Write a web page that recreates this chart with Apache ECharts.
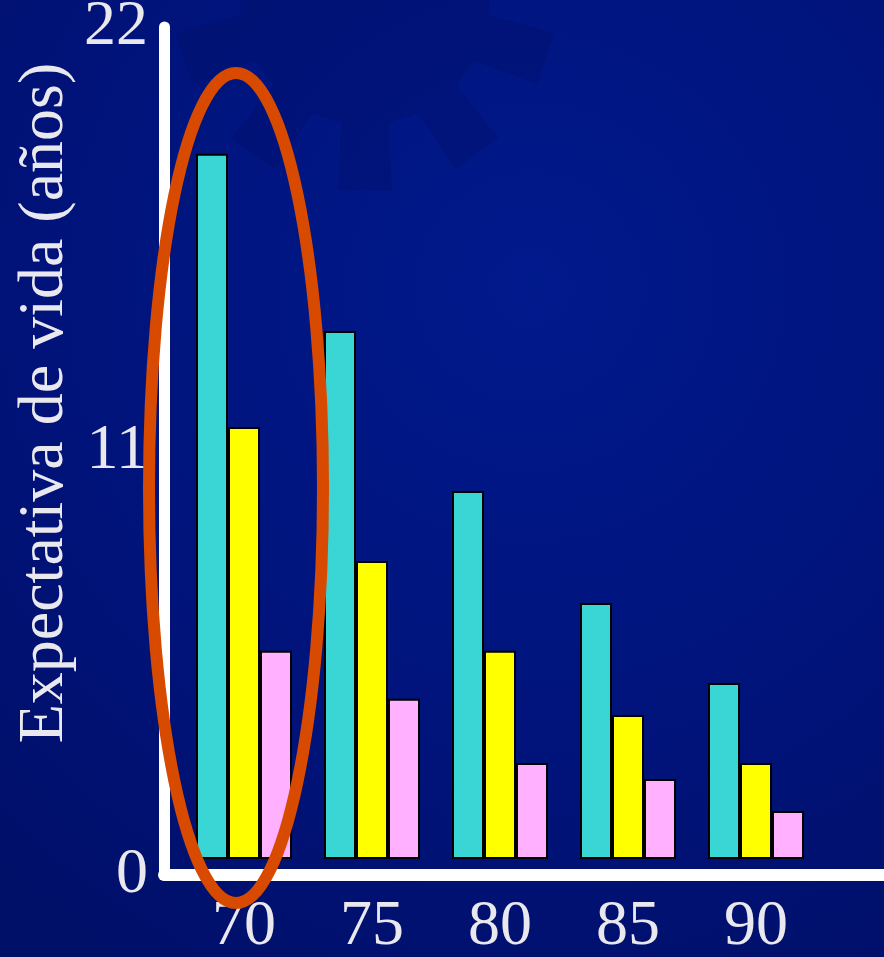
<!DOCTYPE html>
<html>
<head>
<meta charset="utf-8">
<script src="https://cdn.jsdelivr.net/npm/echarts@6/dist/echarts.min.js"></script>
<style>
html,body{margin:0;padding:0;background:#00106e;}
#c{width:884px;height:957px;}
</style>
</head>
<body>
<div id="c"></div>
<script>
// ---- data ----
const categories = ['70', '75', '80', '85', '90'];
const seriesA = [18.67, 13.98, 9.74, 6.78, 4.66];   // cyan
const seriesB = [11.44, 7.89, 5.51, 3.81, 2.54];    // yellow
const seriesC = [5.51, 4.24, 2.54, 2.12, 1.27];     // pink
const yTicks = [0, 11, 22];
const yTitle = 'Expectativa de vida (años)';

const FONT = 'Liberation Serif, Times New Roman, serif';
const TXT = '#e8e8ee';

const chart = echarts.init(document.getElementById('c'), null, {renderer: 'canvas'});

function barSeries(name, data, color) {
  return {
    name, type: 'bar', xAxisIndex: 0, yAxisIndex: 0, data,
    barWidth: 32, barGap: '0%',
    itemStyle: {color, borderColor: '#000', borderWidth: 2},
    emphasis: {disabled: true}, z: 3
  };
}

// decorative background gear (slide template motif)
function gearPoints(cx, cy, rOut, rIn, teeth, startDeg, halfOut, halfIn) {
  const pts = [];
  const step = 360 / teeth;
  const r = d => d * Math.PI / 180;
  for (let i = 0; i < teeth; i++) {
    const a = startDeg + i * step;
    pts.push([cx + rIn * Math.cos(r(a - halfIn)), cy + rIn * Math.sin(r(a - halfIn))]);
    pts.push([cx + rOut * Math.cos(r(a - halfOut)), cy + rOut * Math.sin(r(a - halfOut))]);
    pts.push([cx + rOut * Math.cos(r(a + halfOut)), cy + rOut * Math.sin(r(a + halfOut))]);
    pts.push([cx + rIn * Math.cos(r(a + halfIn)), cy + rIn * Math.sin(r(a + halfIn))]);
  }
  return pts;
}

const option = {
  animation: false,
  backgroundColor: {
    type: 'radial', x: 0.6, y: 0.3, r: 0.9,
    colorStops: [
      {offset: 0, color: '#00198c'},
      {offset: 0.6, color: '#00137a'},
      {offset: 1, color: '#000f68'}
    ]
  },
  grid: [
    {left: 180, right: 64, top: 28, bottom: 98, containLabel: false, outerBoundsMode: 'none'},   // bars
    {left: 164, right: 0, top: 27, bottom: 82, containLabel: false, outerBoundsMode: 'none'}     // axes frame
  ],
  xAxis: [
    {
      gridIndex: 0, type: 'category', data: categories,
      axisLine: {show: false}, axisTick: {show: false},
      axisLabel: {color: TXT, fontFamily: FONT, fontSize: 64, margin: 36, verticalAlign: 'top', lineHeight: 64},
      splitLine: {show: false}
    },
    {
      gridIndex: 1, type: 'value', min: 0, max: 1,
      axisLine: {show: true, lineStyle: {color: '#ffffff', width: 12}},
      axisTick: {show: false}, axisLabel: {show: false}, splitLine: {show: false}
    }
  ],
  yAxis: [
    {
      gridIndex: 0, type: 'value', min: 0, max: 22, interval: 11,
      show: false
    },
    {
      gridIndex: 1, type: 'value', min: yTicks[0], max: yTicks[yTicks.length - 1], interval: yTicks[1] - yTicks[0],
      axisLine: {show: true, lineStyle: {color: '#ffffff', width: 11}},
      axisTick: {show: false}, splitLine: {show: false},
      axisLabel: {color: TXT, fontFamily: FONT, fontSize: 64, margin: 16}
    }
  ],
  series: [
    barSeries('A', seriesA, '#3ad6d6'),
    barSeries('B', seriesB, '#ffff00'),
    barSeries('C', seriesC, '#ffb0ff')
  ],
  graphic: [
    {
      type: 'polygon', z: -10, silent: true,
      shape: {points: gearPoints(365, 0, 192, 125, 10, 18, 8, 11)},
      style: {fill: 'rgba(0,6,70,0.15)'}
    },
    {
      type: 'text', x: 45, y: 403, rotation: Math.PI / 2,
      style: {text: yTitle, fill: TXT, font: '64px ' + FONT, align: 'center', verticalAlign: 'middle'},
      z: 10
    },
    {
      type: 'ellipse', shape: {cx: 236, cy: 488, rx: 87, ry: 415},
      style: {fill: 'none', stroke: '#d84a00', lineWidth: 12},
      z: 20
    }
  ]
};
chart.setOption(option);
</script>
</body>
</html>
